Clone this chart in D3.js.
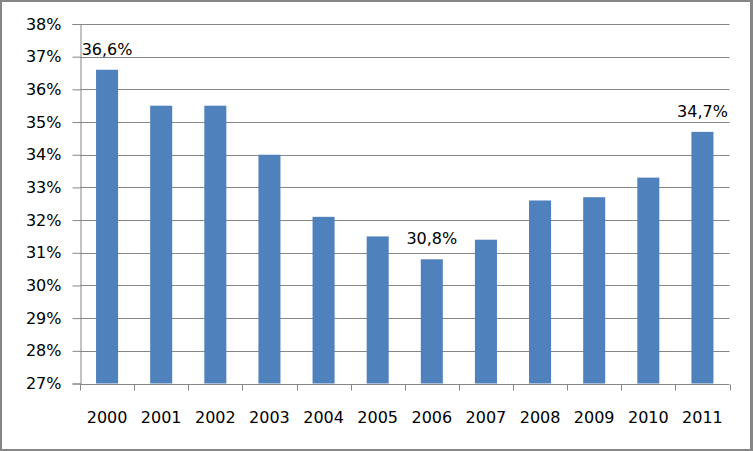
<!DOCTYPE html>
<html>
<head>
<meta charset="utf-8">
<script src="https://cdn.jsdelivr.net/npm/d3@7"></script>
<style>
  html, body { margin: 0; padding: 0; background: #fff; }
  svg { display: block; }
  text { font-family: "DejaVu Sans", sans-serif; font-size: 16px; fill: #000; }
</style>
</head>
<body>
<svg id="chart" width="753" height="451"></svg>
<script>
const years = ["2000","2001","2002","2003","2004","2005","2006","2007","2008","2009","2010","2011"];
const values = [36.6, 35.5, 35.5, 34.0, 32.1, 31.5, 30.8, 31.4, 32.6, 32.7, 33.3, 34.7];
const yTicks = [27, 28, 29, 30, 31, 32, 33, 34, 35, 36, 37, 38];
const labelledYears = ["2000", "2006", "2011"];

const svg = d3.select("#chart");
const W = 753, H = 451;

// frame
svg.append("rect").attr("x", 0).attr("y", 0).attr("width", W).attr("height", H).attr("fill", "#868686");
svg.append("rect").attr("x", 2).attr("y", 2).attr("width", 748).attr("height", 447).attr("fill", "#ffffff");

const pLeft = 80, pRight = 729.5, pTop = 24, pBottom = 383.5;

const x = d3.scaleBand().domain(years).range([pLeft, pRight]).paddingInner(0.593).paddingOuter(0.2965);
const xb = d3.scaleBand().domain(years).range([pLeft, pRight]);
const y = d3.scaleLinear().domain([27, 38]).range([pBottom, pTop]);

// gridlines
svg.append("g").selectAll("line").data(yTicks.filter(t => t > 27)).join("line")
  .attr("x1", pLeft).attr("x2", pRight)
  .attr("y1", d => Math.round(y(d)) + 0.5).attr("y2", d => Math.round(y(d)) + 0.5)
  .attr("stroke", "#868686").attr("stroke-width", 1);

// y axis
const yAxis = d3.axisLeft(y).tickValues(yTicks).tickFormat(d => d + "%").tickSize(8).tickPadding(11);
const gy = svg.append("g").attr("transform", `translate(${pLeft + 0.5},0)`).call(yAxis);
gy.select(".domain").attr("stroke", "#868686");
gy.selectAll(".tick line").attr("stroke", "#868686");
gy.selectAll(".tick text").style("font-family", "DejaVu Sans").style("font-size", "16px").attr("fill", "#000");

// bars
svg.append("g").selectAll("rect").data(values).join("rect")
  .attr("x", (d, i) => x(years[i]))
  .attr("width", x.bandwidth())
  .attr("y", d => y(d))
  .attr("height", d => y(27) - y(d))
  .attr("fill", "#4F81BD");

// x axis
const gx = svg.append("g").attr("transform", `translate(0,${Math.round(pBottom) + 0.5})`);
gx.append("line").attr("x1", pLeft).attr("x2", pRight).attr("stroke", "#868686");
const bounds = years.map(yr => xb(yr)).concat([pRight]);
gx.selectAll("line.tk").data(bounds).join("line").attr("class", "tk")
  .attr("x1", d => Math.round(d) + 0.5).attr("x2", d => Math.round(d) + 0.5)
  .attr("y1", 0).attr("y2", 6).attr("stroke", "#868686");
gx.selectAll("text").data(years).join("text")
  .attr("x", d => xb(d) + xb.bandwidth() / 2)
  .attr("y", 38)
  .attr("text-anchor", "middle")
  .text(d => d);

// data labels
const fmt = v => v.toFixed(1).replace(".", ",") + "%";
svg.append("g").selectAll("text").data(years.map((yr, i) => ({yr, v: values[i]})).filter(d => labelledYears.includes(d.yr))).join("text")
  .attr("x", d => x(d.yr) + x.bandwidth() / 2)
  .attr("y", d => y(d.v) - 15)
  .attr("text-anchor", "middle")
  .text(d => fmt(d.v));
</script>
</body>
</html>
